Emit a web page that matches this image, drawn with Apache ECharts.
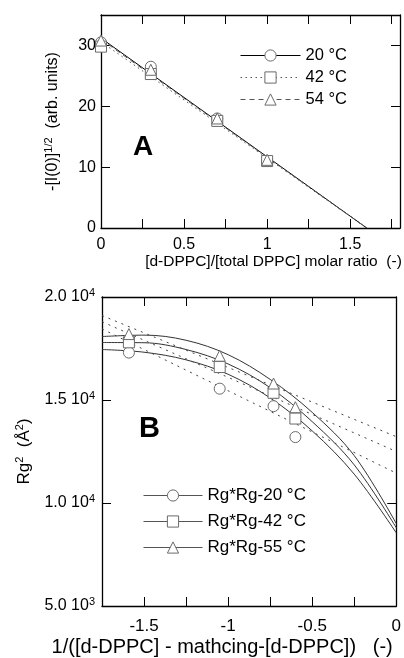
<!DOCTYPE html>
<html>
<head>
<meta charset="utf-8">
<script src="https://cdn.jsdelivr.net/npm/echarts@6/dist/echarts.min.js"></script>
<style>html,body{margin:0;padding:0;background:#fff}#c{width:404px;height:658px}</style>
</head>
<body>
<div id="c"></div>
<script>
// ---- Panel A data ----
var aX = [0, 0.3, 0.7, 1.0];
var a20 = [30.5, 26.5, 18.0, 11.0];
var a42 = [29.8, 25.3, 17.6, 11.0];
var a54 = [30.8, 26.0, 18.0, 11.2];
var aFitX = [0, 1.6];
var aFit20 = [31.2, 0];
var aFit42 = [30.6, 0];
var aFit54 = [31.0, 0];
var aNames = ['20 °C', '42 °C', '54 °C'];

// ---- Panel B data ----
var bX = [-1.59, -1.05, -0.73, -0.6];
var b20 = [17300, 15550, 14700, 13200];
var b42 = [17800, 16600, 15350, 14100];
var b55 = [18200, 17150, 15800, 14650];
var bCurveX = [-1.75, -1.5, -1.25, -1.0, -0.75, -0.5, -0.25, 0];
var bCurve20 = [17450, 17320, 16950, 16250, 15100, 13500, 11400, 8550];
var bCurve42 = [17790, 17780, 17450, 16750, 15600, 13950, 11850, 8800];
var bCurve55 = [18080, 18150, 17900, 17200, 16000, 14400, 12300, 9000];
var bLineX = [-1.75, 0];
var bDot1 = [19100, 13220];
var bDot2 = [18800, 12500];
var bDot3 = [18450, 11450];
var bNames = ['Rg*Rg-20 °C', 'Rg*Rg-42 °C', 'Rg*Rg-55 °C'];

function pairs(xs, ys) { return xs.map(function (x, i) { return [x, ys[i]]; }); }

var FONT = "'Liberation Sans', Arial, sans-serif";
var MARK = '#6a6a6a';

function markerSeries(name, xs, ys, symbol, xi, yi) {
  return {
    type: 'line', name: name, xAxisIndex: xi, yAxisIndex: yi,
    data: pairs(xs, ys), symbol: symbol, symbolSize: 11, showSymbol: true,
    lineStyle: { opacity: 0 },
    itemStyle: { color: '#ffffff', borderColor: MARK, borderWidth: 1 },
    z: 5, silent: true
  };
}
function fitSeries(xs, ys, type, color, xi, yi, smooth) {
  return {
    type: 'line', xAxisIndex: xi, yAxisIndex: yi, data: pairs(xs, ys),
    symbol: 'none', smooth: smooth || false,
    lineStyle: { color: color, width: 1, type: type }, z: 3, silent: true
  };
}

function axisCommon(extra) {
  var o = {
    axisLine: { show: true, onZero: false, lineStyle: { color: '#000', width: 1.3 } },
    axisTick: { show: true, inside: true, length: 9, lineStyle: { color: '#000', width: 1 } },
    splitLine: { show: false },
    axisLabel: { color: '#000', fontFamily: FONT, fontSize: 16 }
  };
  for (var k in extra) o[k] = extra[k];
  return o;
}

function halfLabel(v) {
  if (Math.abs(v * 2 - Math.round(v * 2)) > 1e-6) return '';
  return String(Math.round(v * 10) / 10);
}
function sciLabel(v) {
  var e = Math.floor(Math.log10(v) + 1e-9);
  var m = (v / Math.pow(10, e)).toFixed(1);
  return '{m|' + m + ' 10}{e|' + e + '}';
}

var legendItem = function (name, type, color) {
  return {
    name: name,
    lineStyle: { color: color, width: 1, type: type, opacity: 1 },
    itemStyle: { color: '#ffffff', borderColor: MARK, borderWidth: 1, opacity: 1 }
  };
};

var option = {
  animation: false,
  backgroundColor: '#fff',
  textStyle: { fontFamily: FONT },
  grid: [
    { left: 101, top: 15, width: 299, height: 213 },
    { left: 102, top: 297, width: 299, height: 312 }
  ],
  xAxis: [
    axisCommon({ gridIndex: 0, type: 'value', min: 0, max: 1.8, interval: 0.25, position: 'bottom',
      axisLabel: { color: '#000', fontFamily: FONT, fontSize: 16, margin: 9, formatter: halfLabel },
      name: '[d-DPPC]/[total DPPC] molar ratio  (-)', nameLocation: 'middle', nameGap: 22,
      nameTextStyle: { color: '#000', fontFamily: FONT, fontSize: 15.5, padding: [0, 0, 0, 46] } }),
    axisCommon({ gridIndex: 0, type: 'value', min: 0, max: 1.8, interval: 0.25, position: 'top',
      axisLabel: { show: false } }),
    axisCommon({ gridIndex: 1, type: 'value', min: -1.75, max: 0, interval: 0.25, position: 'bottom',
      axisLabel: { color: '#000', fontFamily: FONT, fontSize: 17, margin: 12, formatter: halfLabel },
      name: '1/([d-DPPC] - mathcing-[d-DPPC])   (-)', nameLocation: 'middle', nameGap: 31,
      nameTextStyle: { color: '#000', fontFamily: FONT, fontSize: 20, padding: [0, 54, 0, 0] } }),
    axisCommon({ gridIndex: 1, type: 'value', min: -1.75, max: 0, interval: 0.25, position: 'top',
      axisLabel: { show: false } })
  ],
  yAxis: [
    axisCommon({ gridIndex: 0, type: 'value', min: 0, max: 35, interval: 10, position: 'left',
      axisLabel: { color: '#000', fontFamily: FONT, fontSize: 16, margin: 5,
        formatter: function (v) { return v > 30 ? '' : String(v); } },
      name: '{t|-[I(0)]}{s|1/2}{t|  (arb. units)}', nameLocation: 'middle', nameGap: 38,
      nameTextStyle: { rich: {
        t: { fontFamily: FONT, fontSize: 16, color: '#000', lineHeight: 20 },
        s: { fontFamily: FONT, fontSize: 11, color: '#000', verticalAlign: 'top', lineHeight: 12 } } } }),
    axisCommon({ gridIndex: 0, type: 'value', min: 0, max: 35, interval: 10, position: 'right',
      axisLabel: { show: false } }),
    axisCommon({ gridIndex: 1, type: 'value', min: 5000, max: 20000, interval: 5000, position: 'left',
      axisLabel: { margin: 7, formatter: sciLabel, rich: {
        m: { fontFamily: FONT, fontSize: 16, color: '#000', lineHeight: 20 },
        e: { fontFamily: FONT, fontSize: 11, color: '#000', verticalAlign: 'top', lineHeight: 12 } } },
      name: '{t|Rg}{s|2}{t|  (Å}{s|2}{t|)}', nameLocation: 'middle', nameGap: 68,
      nameTextStyle: { rich: {
        t: { fontFamily: FONT, fontSize: 17, color: '#000', lineHeight: 20 },
        s: { fontFamily: FONT, fontSize: 11, color: '#000', verticalAlign: 'top', lineHeight: 12 } } } }),
    axisCommon({ gridIndex: 1, type: 'value', min: 5000, max: 20000, interval: 5000, position: 'right',
      axisLabel: { show: false } })
  ],
  legend: [
    {
      orient: 'vertical', left: 240, top: 47, padding: 0, itemWidth: 60, itemHeight: 14, itemGap: 5,
      textStyle: { color: '#000', fontFamily: FONT, fontSize: 16.5 },
      data: [legendItem(aNames[0], 'solid', '#000'), legendItem(aNames[1], [1.5, 3.5], '#555'),
             legendItem(aNames[2], [5, 4], '#555')],
      selectedMode: false
    },
    {
      orient: 'vertical', left: 143, top: 487, padding: 0, itemWidth: 59, itemHeight: 14, itemGap: 9,
      textStyle: { color: '#000', fontFamily: FONT, fontSize: 17 },
      data: [legendItem(bNames[0], 'solid', '#555'), legendItem(bNames[1], 'solid', '#555'),
             legendItem(bNames[2], 'solid', '#555')],
      selectedMode: false
    }
  ],
  graphic: [
    { type: 'text', left: 133, top: 133, style: { text: 'A', font: "bold 28px " + FONT, fill: '#000' } },
    { type: 'text', left: 139, top: 414, style: { text: 'B', font: "bold 29px " + FONT, fill: '#000' } }
  ],
  series: [
    fitSeries(aFitX, aFit20, 'solid', '#000', 0, 0),
    fitSeries(aFitX, aFit42, [1.5, 3.5], '#555', 0, 0),
    fitSeries(aFitX, aFit54, [5, 4], '#555', 0, 0),
    markerSeries(aNames[0], aX, a20, 'circle', 0, 0),
    markerSeries(aNames[1], aX, a42, 'rect', 0, 0),
    markerSeries(aNames[2], aX, a54, 'triangle', 0, 0),

    fitSeries(bCurveX, bCurve20, 'solid', '#333', 2, 2, 0.35),
    fitSeries(bCurveX, bCurve42, 'solid', '#333', 2, 2, 0.35),
    fitSeries(bCurveX, bCurve55, 'solid', '#333', 2, 2, 0.35),
    fitSeries(bLineX, bDot1, [2, 5], '#444', 2, 2),
    fitSeries(bLineX, bDot2, [2, 5], '#444', 2, 2),
    fitSeries(bLineX, bDot3, [2, 5], '#444', 2, 2),
    markerSeries(bNames[0], bX, b20, 'circle', 2, 2),
    markerSeries(bNames[1], bX, b42, 'rect', 2, 2),
    markerSeries(bNames[2], bX, b55, 'triangle', 2, 2)
  ]
};

var chart = echarts.init(document.getElementById('c'), null, { renderer: 'canvas' });
chart.setOption(option);
</script>
</body>
</html>
